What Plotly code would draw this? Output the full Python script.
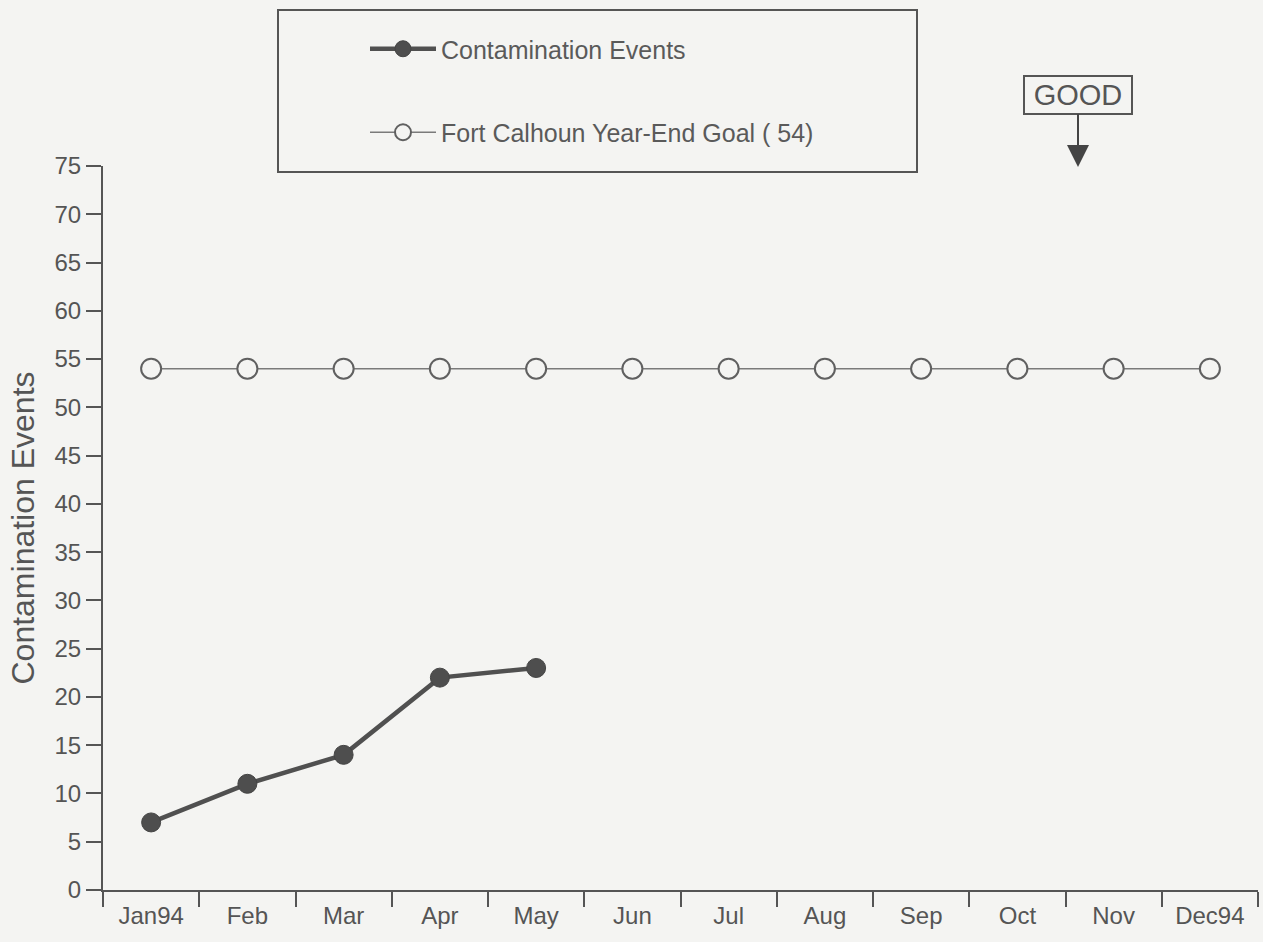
import plotly.graph_objects as go

months = ["Jan94", "Feb", "Mar", "Apr", "May", "Jun", "Jul", "Aug", "Sep", "Oct", "Nov", "Dec94"]
events = [7, 11, 14, 22, 23]
goal = [54, 54, 54, 54, 54, 54, 54, 54, 54, 54, 54, 54]
y_ticks = [0, 5, 10, 15, 20, 25, 30, 35, 40, 45, 50, 55, 60, 65, 70, 75]

x_idx = list(range(len(months)))

BG = "#f4f4f2"
INK = "#555555"
FONT = "Liberation Sans, Arial, Helvetica, sans-serif"

# plot area in pixels (layout only)
L, R, T, B = 103, 1258, 166, 890
PW, PH = R - L, B - T


def px(x):
    return (x - L) / PW


def py(y):
    return (B - y) / PH


fig = go.Figure()

fig.add_trace(go.Scatter(
    x=x_idx[:len(events)], y=events, mode="lines+markers",
    name="Contamination Events", legendgroup="a",
    line=dict(color="#505050", width=4.5),
    marker=dict(symbol="circle", size=19, color="#4e4e4e", line=dict(color="#444444", width=1)),
))
fig.add_trace(go.Scatter(
    x=x_idx, y=goal, mode="lines+markers",
    name="Fort Calhoun Year-End Goal ( 54)", legendgroup="b",
    line=dict(color="#7a7a7a", width=1.5),
    marker=dict(symbol="circle", size=20, color=BG, line=dict(color="#606060", width=2)),
))

# legend frame
fig.add_shape(type="rect", xref="paper", yref="paper",
              x0=px(278), x1=px(917), y0=py(172), y1=py(10),
              line=dict(color="#555555", width=2), fillcolor="rgba(0,0,0,0)")

fig.add_annotation(
    x=px(1078), y=py(167), xref="paper", yref="paper",
    text="GOOD", showarrow=True, ax=0, ay=-72,
    arrowhead=2, arrowsize=2.2, arrowwidth=2, arrowcolor="#444444",
    bordercolor="#555555", borderwidth=2, borderpad=1, bgcolor=BG,
    width=104, height=34,
    font=dict(family=FONT, size=29, color="#555555"),
)

fig.update_layout(
    width=1263, height=942,
    paper_bgcolor=BG, plot_bgcolor=BG,
    margin=dict(l=L, r=1263 - R, t=T, b=942 - B, autoexpand=False),
    font=dict(family=FONT, color=INK),
    showlegend=True,
    legend=dict(
        xref="paper", yref="paper",
        x=px(365), y=py(26), xanchor="left", yanchor="top",
        bgcolor="rgba(0,0,0,0)", borderwidth=0,
        font=dict(family=FONT, size=25, color="#5a5a5a"),
        tracegroupgap=48, itemwidth=66, traceorder="grouped",
    ),
    xaxis=dict(
        range=[-0.5, 11.5], tickmode="array", tickvals=x_idx, ticktext=months,
        ticks="outside", ticklen=3, tickcolor="rgba(0,0,0,0)", tickangle=0,
        showline=True, linecolor=INK, linewidth=2, showgrid=False, zeroline=False,
        tickfont=dict(family=FONT, size=24, color="#555555"),
        minor=dict(tick0=-0.5, dtick=1, ticks="outside", ticklen=15, tickwidth=2,
                   tickcolor=INK, showgrid=False),
    ),
    yaxis=dict(
        range=[0, 75], tickmode="array", tickvals=y_ticks,
        ticks="outside", ticklen=15, tickwidth=2, tickcolor=INK,
        showline=True, linecolor=INK, linewidth=2, showgrid=False, zeroline=False,
        tickfont=dict(family=FONT, size=24, color="#555555"),
        title=dict(text="Contamination Events", font=dict(family=FONT, size=32, color="#555555"),
                   standoff=10),
    ),
)

fig.write_html("out.html")
